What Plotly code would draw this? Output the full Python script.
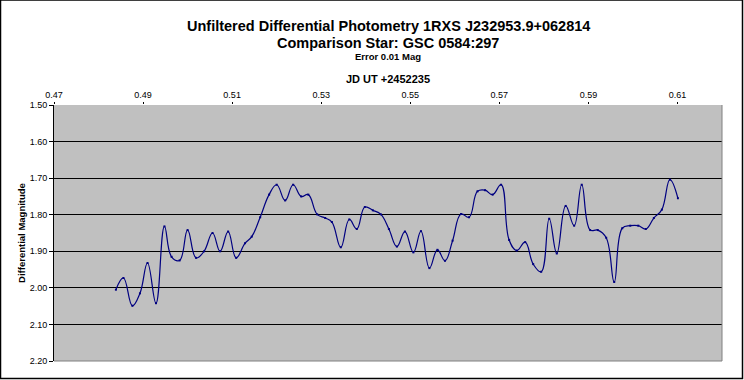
import plotly.graph_objects as go

# JD UT offsets (+2452235) and differential magnitudes
jd = [0.4839, 0.4856, 0.4876, 0.4893, 0.4910, 0.4929, 0.4948, 0.4964, 0.4982, 0.5000,
      0.5019, 0.5037, 0.5056, 0.5073, 0.5091, 0.5109, 0.5129, 0.5144, 0.5163, 0.5183,
      0.5200, 0.5219, 0.5237, 0.5255, 0.5271, 0.5291, 0.5309, 0.5324, 0.5344, 0.5363,
      0.5380, 0.5398, 0.5416, 0.5434, 0.5452, 0.5470, 0.5488, 0.5507, 0.5524, 0.5543,
      0.5561, 0.5578, 0.5595, 0.5614, 0.5632, 0.5651, 0.5668, 0.5685, 0.5704, 0.5722,
      0.5739, 0.5758, 0.5776, 0.5794, 0.5812, 0.5829, 0.5849, 0.5868, 0.5885, 0.5904,
      0.5921, 0.5940, 0.5958, 0.5976, 0.5994, 0.6012, 0.6029, 0.6047, 0.6065, 0.6083,
      0.6101]
mag = [2.005, 1.973, 2.049, 2.015, 1.932, 2.042, 1.832, 1.915, 1.925, 1.842,
       1.918, 1.900, 1.850, 1.900, 1.846, 1.918, 1.878, 1.860, 1.807, 1.745,
       1.718, 1.761, 1.718, 1.750, 1.745, 1.799, 1.809, 1.820, 1.889, 1.813,
       1.839, 1.779, 1.788, 1.799, 1.839, 1.887, 1.846, 1.903, 1.845, 1.946,
       1.896, 1.926, 1.871, 1.798, 1.807, 1.736, 1.733, 1.745, 1.718, 1.869,
       1.898, 1.875, 1.935, 1.956, 1.811, 1.906, 1.776, 1.830, 1.718, 1.842,
       1.842, 1.863, 1.984, 1.837, 1.830, 1.830, 1.839, 1.809, 1.786, 1.704,
       1.755]

x_ticks = [0.47, 0.49, 0.51, 0.53, 0.55, 0.57, 0.59, 0.61]
y_ticks = [1.50, 1.60, 1.70, 1.80, 1.90, 2.00, 2.10, 2.20]

title_line1 = "Unfiltered Differential Photometry 1RXS J232953.9+062814"
title_line2 = "Comparison Star: GSC 0584:297"
subtitle = "Error 0.01 Mag"
x_title = "JD UT +2452235"
y_title = "Differential Magnitude"

FONT = "Liberation Sans, Arial, sans-serif"

fig = go.Figure()
fig.add_trace(go.Scatter(
    x=jd, y=mag, mode="lines+markers",
    line=dict(color="#000080", width=1.2, shape="spline", smoothing=1.2),
    marker=dict(color="#000080", size=2, symbol="square"),
    showlegend=False,
))

fig.update_layout(
    width=744, height=380,
    margin=dict(l=54, r=22, t=105, b=19),
    paper_bgcolor="white",
    plot_bgcolor="#C0C0C0",
    font=dict(family=FONT, size=9, color="black"),
    xaxis=dict(
        side="top", range=[0.47, 0.62], tickvals=x_ticks,
        ticktext=[f"{v:.2f}" for v in x_ticks],
        showgrid=False, zeroline=False, showline=False, automargin=False,
        ticks="outside", ticklen=2, tickcolor="black",
        tickfont=dict(family=FONT, size=9),
        title=dict(text=f"<b>{x_title}</b>", font=dict(family=FONT, size=11), standoff=4),
    ),
    yaxis=dict(
        range=[2.20, 1.50], tickvals=y_ticks,
        ticktext=[f"{v:.2f}" for v in y_ticks],
        showgrid=True, gridcolor="black", gridwidth=1.3,
        zeroline=False, showline=True, linecolor="black", linewidth=1, automargin=False,
        ticks="outside", ticklen=4, tickcolor="black",
        tickfont=dict(family=FONT, size=9),
        title=dict(text=f"<b>{y_title}</b>", font=dict(family=FONT, size=9.5), standoff=2),
    ),
    annotations=[
        dict(text=f"<b>{title_line1}</b>", xref="paper", yref="paper", x=0.5, y=(360 - 26) / 255,
             showarrow=False, font=dict(family=FONT, size=14.5), xanchor="center", yanchor="middle"),
        dict(text=f"<b>{title_line2}</b>", xref="paper", yref="paper", x=0.5, y=(360 - 43) / 255,
             showarrow=False, font=dict(family=FONT, size=14.5), xanchor="center", yanchor="middle"),
        dict(text=f"<b>{subtitle}</b>", xref="paper", yref="paper", x=0.5, y=(360 - 57) / 255,
             showarrow=False, font=dict(family=FONT, size=9.5), xanchor="center", yanchor="middle"),
    ],
    shapes=[
        # plot-area right and bottom border
        dict(type="line", xref="paper", yref="paper", x0=1, x1=1, y0=0, y1=1,
             line=dict(color="#808080", width=1)),
        dict(type="line", xref="paper", yref="paper", x0=0, x1=1, y0=0, y1=0,
             line=dict(color="#808080", width=1)),
        # outer chart border
        dict(type="rect", xref="paper", yref="paper",
             x0=-53.5 / 668, x1=1 + 20.5 / 668, y0=-17.5 / 255, y1=1 + 104.5 / 255,
             line=dict(color="black", width=1.5), layer="above"),
    ],
)

fig.write_html(
    "out.html",
    config={"displayModeBar": False},
    post_script="document.body.style.margin='0px';document.body.style.overflow='hidden';",
)
